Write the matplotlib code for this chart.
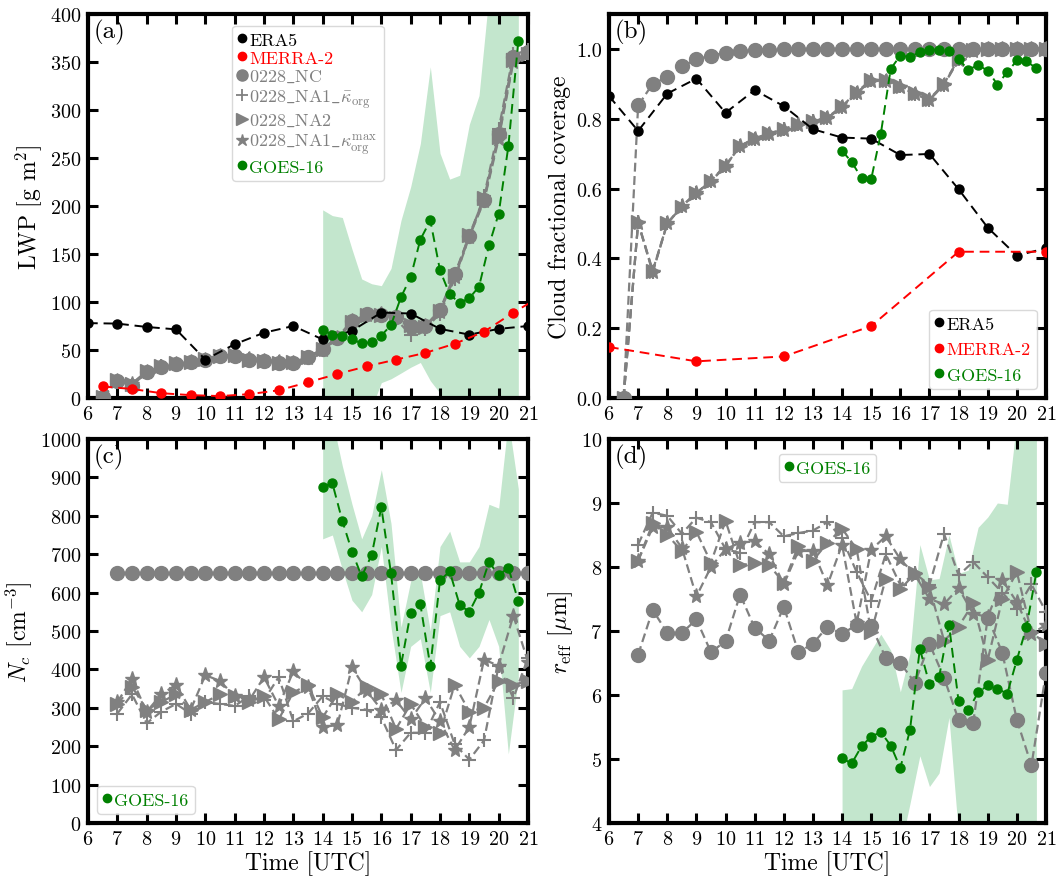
import numpy as np
import matplotlib
matplotlib.use("Agg")
import matplotlib.pyplot as plt
from matplotlib.lines import Line2D

plt.rcParams['font.family'] = 'serif'
plt.rcParams['font.serif'] = ['cmr10', 'DejaVu Serif']
plt.rcParams['mathtext.fontset'] = 'cm'
plt.rcParams['axes.formatter.use_mathtext'] = True
plt.rcParams['axes.unicode_minus'] = False

# ---------------- data ----------------
model_time = [6.5, 7, 7.5, 8, 8.5, 9, 9.5, 10, 10.5, 11, 11.5, 12, 12.5, 13, 13.5,
              14, 14.5, 15, 15.5, 16, 16.5, 17, 17.5, 18, 18.5, 19, 19.5, 20, 20.5, 21]
goes_time = [14.0, 14.33, 14.67, 15.0, 15.33, 15.67, 16.0, 16.33, 16.67, 17.0, 17.33,
             17.67, 18.0, 18.33, 18.67, 19.0, 19.33, 19.67, 20.0, 20.33, 20.67]
era5_time = [6, 7, 8, 9, 10, 11, 12, 13, 14, 15, 16, 17, 18, 19, 20, 21]
merra_lwp_time = [6.5, 7.5, 8.5, 9.5, 10.5, 11.5, 12.5, 13.5, 14.5, 15.5, 16.5, 17.5,
                  18.5, 19.5, 20.5, 21.5]
merra_cf_time = [6, 9, 12, 15, 18, 21]

# (a) LWP
era5_lwp = [78, 77.5, 74, 71.5, 40, 56, 68, 75, 61, 70, 89, 88, 72, 66, 72, 75]
merra_lwp = [12, 9.4, 5, 3, 2, 4, 8, 16.4, 25, 33, 40, 47, 56.5, 69, 89, 107]
nc_lwp = [1, 17.5, 13, 27, 32, 35, 37, 40, 44, 44, 40, 39, 36, 36, 42.5,
          50.6, 63, 80, 87, 86, 84, 75, 75, 92, 129, 169, 206, 275, 355, 360]
na1k_lwp = [0, 18, 14, 26, 33, 35, 38, 40, 43, 45, 41, 38, 37, 35, 43,
            50, 62, 78, 85, 87, 82, 66, 72, 88, 124, 168, 210, 280, 358, 362]
na2_lwp = [1, 19, 15, 28, 33, 36, 37, 41, 44, 45, 40, 39, 36, 37, 43,
           51, 64, 79, 86, 86, 83, 76, 74, 91, 127, 170, 208, 272, 352, 358]
na1kmax_lwp = [0, 18, 15, 27, 32, 35, 38, 40, 44, 44, 41, 39, 37, 36, 42,
               50, 63, 80, 86, 87, 84, 72, 75, 90, 126, 168, 205, 270, 350, 360]
goes_lwp = [71, 66, 65, 61, 57, 58, 65, 76, 105, 126, 165, 185, 133, 108, 99, 104,
            116, 159, 192, 262, 372]
goes_lwp_lo = [-20, -15, -10, -20, -25, -10, 16, 20, 26, 32, 37, 18, 5, -10, -20, -20,
               -30, -30, -30, -30, -30]
goes_lwp_hi = [196, 190, 188, 155, 124, 119, 117, 135, 185, 220, 265, 345, 255, 228,
               232, 285, 315, 420, 500, 500, 500]

# (b) cloud fraction
era5_cf = [0.865, 0.765, 0.872, 0.915, 0.817, 0.882, 0.836, 0.77, 0.746, 0.743,
           0.696, 0.699, 0.598, 0.488, 0.408, 0.429]
merra_cf = [0.146, 0.105, 0.119, 0.206, 0.419, 0.419]
nc_cf = [0.0, 0.838, 0.90, 0.919, 0.95, 0.97, 0.981, 0.989, 0.993, 0.996, 0.998,
         0.999, 1.0, 1.0, 1.0, 1.0, 1.0, 1.0, 1.0, 1.0, 1.0, 1.0, 1.0, 1.0, 1.0,
         1.0, 1.0, 1.0, 1.0, 1.0]
na1k_cf = [0.0, 0.503, 0.362, 0.50, 0.549, 0.587, 0.622, 0.665, 0.722, 0.743, 0.757,
           0.770, 0.784, 0.793, 0.803, 0.834, 0.874, 0.910, 0.908, 0.893, 0.871,
           0.855, 0.898, 0.970, 0.996, 1.0, 1.0, 1.0, 1.0, 1.0]
na2_cf = [0.0, 0.503, 0.365, 0.50, 0.548, 0.586, 0.623, 0.666, 0.721, 0.744, 0.758,
          0.771, 0.785, 0.794, 0.804, 0.836, 0.876, 0.912, 0.910, 0.895, 0.873,
          0.857, 0.900, 0.972, 0.997, 1.0, 1.0, 1.0, 1.0, 1.0]
na1kmax_cf = [0.0, 0.502, 0.360, 0.50, 0.550, 0.588, 0.621, 0.664, 0.723, 0.742,
              0.756, 0.769, 0.783, 0.792, 0.802, 0.833, 0.873, 0.909, 0.907, 0.892,
              0.870, 0.854, 0.897, 0.969, 0.995, 1.0, 1.0, 1.0, 1.0, 1.0]
goes_cf = [0.708, 0.676, 0.630, 0.627, 0.757, 0.943, 0.981, 0.977, 0.991, 0.998, 0.998,
           0.993, 0.970, 0.941, 0.953, 0.938, 0.898, 0.933, 0.967, 0.965, 0.944]

# (c) droplet number
nc_nc = [np.nan] + [652] * 29
na1k_nc = [np.nan, 285, 335, 260, 290, 310, 285, 315, 310, 305, 330, 320, 380, 265, 285,
           330, 310, 300, 295, 275, 190, 235, 235, 315, 205, 165, 215, 410, 325, 430]
na2_nc = [np.nan, 310, 355, 295, 315, 335, 295, 315, 335, 330, 315, 330, 270, 340, 360,
          275, 335, 315, 355, 335, 245, 310, 250, 235, 360, 290, 300, 370, 360, 370]
na1kmax_nc = [np.nan, 315, 375, 290, 335, 360, 295, 385, 370, 330, 320, 380, 305, 395, 355,
              250, 255, 405, 345, 295, 320, 270, 325, 265, 190, 250, 425, 410, 540, 420]
goes_nc = [875, 885, 787, 707, 642, 698, 822, 650, 410, 548, 570, 408, 632, 655, 568,
           550, 600, 680, 645, 665, 578]
goes_nc_lo = [740, 750, 660, 580, 550, 595, 720, 510, 340, 460, 480, 340, 540, 550, 460,
              430, 460, 530, 460, 180, 380]
goes_nc_hi = [1050, 1050, 930, 830, 740, 800, 920, 780, 510, 630, 650, 500, 720, 760,
              680, 680, 720, 830, 820, 1050, 870]

# (d) effective radius
nc_re = [np.nan, 6.63, 7.33, 6.97, 6.97, 7.18, 6.67, 6.84, 7.57, 7.05, 6.85, 7.38, 6.67,
         6.80, 7.07, 6.95, 7.10, 7.08, 6.58, 6.50, 6.19, 6.80, 6.27, 5.61, 5.56, 7.21,
         6.66, 5.61, 4.90, 6.35]
na1k_re = [np.nan, 8.35, 8.85, 8.80, 8.52, 8.77, 8.70, 8.28, 8.22, 8.70, 8.70, 8.48,
           8.53, 8.57, 8.70, 8.45, 7.92, 7.47, 8.20, 7.72, 7.90, 7.72, 8.52, 7.87, 8.08,
           7.84, 7.60, 7.35, 7.73, 7.30]
na2_re = [np.nan, 8.10, 8.68, 8.50, 8.25, 8.55, 8.07, 8.72, 8.03, 8.06, 8.03, 7.75, 8.33,
          8.10, 8.38, 8.60, 8.28, 6.98, 7.82, 7.65, 7.90, 7.68, 6.85, 7.07, 7.43, 6.55,
          7.50, 7.92, 6.98, 6.80]
na1kmax_re = [np.nan, 8.10, 8.62, 8.62, 8.30, 7.54, 8.00, 8.28, 8.38, 8.40, 8.20, 7.73,
              8.25, 8.25, 7.72, 8.35, 7.12, 8.27, 8.48, 8.12, 7.88, 7.50, 7.42, 7.67, 7.27,
              7.22, 7.80, 7.45, 6.95, 7.10]
goes_re = [5.01, 4.93, 5.20, 5.35, 5.42, 5.21, 4.86, 5.45, 6.72, 6.17, 6.28, 7.10, 5.90,
           5.76, 6.04, 6.15, 6.10, 6.02, 6.55, 7.06, 7.92]
goes_re_lo = [3.8, 3.8, 3.8, 3.8, 3.8, 3.7, 3.6, 4.3, 5.05, 4.57, 4.78, 5.65, 3.8, 3.7,
              3.7, 3.6, 3.6, 3.6, 3.6, 3.5, 3.5]
goes_re_hi = [6.08, 6.10, 6.45, 6.70, 6.95, 6.70, 6.05, 6.65, 8.35, 7.80, 7.82, 8.50,
              7.90, 7.95, 8.62, 8.78, 9.00, 8.98, 10.3, 10.6, 10.6]

# ---------------- styling ----------------
GRAY = 'gray'
GREEN = 'green'
SHADE = '#c3e6cd'
model_styles = [('o', 10), ('+', 10), ('>', 10), ('*', 11)]
model_labels = [r'0228$\_$NC', r'0228$\_$NA1$\_\bar{\kappa}_{\rm org}$',
                r'0228$\_$NA2', r'0228$\_$NA1$\_\kappa_{\rm org}^{\rm max}$']

fig = plt.figure(figsize=(10.57, 8.79), dpi=100)
W, H = 1057, 879
def ax_at(l, t, w=440):
    return fig.add_axes([l / W, 1 - (t + 384) / H, w / W, 384 / H])

axa = ax_at(88, 15)
axb = ax_at(609, 15, 437)
axc = ax_at(88, 440)
axd = ax_at(609, 440, 437)

def style(ax, ylim, yticks, letter):
    ax.set_xlim(6, 21)
    ax.set_xticks(range(6, 22))
    ax.set_ylim(*ylim)
    ax.set_yticks(yticks)
    ax.tick_params(direction='in', top=True, right=True, length=7, width=2.2,
                   labelsize=14.5, pad=5)
    for s in ax.spines.values():
        s.set_linewidth(3)
    ax.text(0.012, 0.988, letter, transform=ax.transAxes, ha='left', va='top',
            fontsize=18)

def models(ax, series):
    for (m, ms), y in zip(model_styles, series):
        mew = 1.5 if m == '+' else 1
        ax.plot(model_time, y, ls='--', color=GRAY, lw=1.6, marker=m, ms=ms,
                mew=mew, dashes=(4, 2), zorder=3)

def leg_handles(items):
    hs = []
    for lab, col, m, ms in items:
        hs.append(Line2D([], [], ls='none', marker=m, color=col, ms=ms,
                         mew=1.3 if m == '+' else 1, label=lab))
    return hs

def add_legend(ax, items, spacing=0.25, **kw):
    hs = leg_handles(items)
    lg = ax.legend(handles=hs, fontsize=13, handlelength=0.4, handletextpad=0.2,
                   borderpad=0.35, labelspacing=spacing, framealpha=0.8,
                   edgecolor='#d0d0d0', **kw)
    for t, (lab, col, m, ms) in zip(lg.get_texts(), items):
        t.set_color(col)
    return lg

# (a)
axa.fill_between(goes_time, goes_lwp_lo, goes_lwp_hi, color=SHADE, lw=0, zorder=1)
axa.plot(era5_time, era5_lwp, '--', color='black', marker='o', ms=6.5, lw=1.4,
         dashes=(5, 3), zorder=4)
axa.plot(merra_lwp_time, merra_lwp, '--', color='red', marker='o', ms=6.5, lw=1.4,
         dashes=(5, 3), zorder=4)
models(axa, [nc_lwp, na1k_lwp, na2_lwp, na1kmax_lwp])
axa.plot(goes_time, goes_lwp, '--', color=GREEN, marker='o', ms=6.5, lw=1.4,
         dashes=(5, 3), zorder=5)
style(axa, (0, 400), range(0, 401, 50), '(a)')
axa.set_ylabel(r'LWP [g m$^{2}$]', fontsize=17, labelpad=4)
items_a = [('ERA5', 'black', 'o', 6), ('MERRA-2', 'red', 'o', 6)]
for lab, (m, ms) in zip(model_labels, model_styles):
    items_a.append((lab, GRAY, m, 8 if m != '*' else 9))
items_a.append(('GOES-16', GREEN, 'o', 6))
add_legend(axa, items_a, spacing=0.13, loc='upper center',
           bbox_to_anchor=(0.5, 0.993))

# (b)
axb.plot(era5_time, era5_cf, '--', color='black', marker='o', ms=6.5, lw=1.4,
         dashes=(5, 3), zorder=4)
axb.plot(merra_cf_time, merra_cf, '--', color='red', marker='o', ms=6.5, lw=1.4,
         dashes=(5, 3), zorder=4)
models(axb, [nc_cf, na1k_cf, na2_cf, na1kmax_cf])
axb.plot(goes_time, goes_cf, '--', color=GREEN, marker='o', ms=6.5, lw=1.4,
         dashes=(5, 3), zorder=5)
style(axb, (0, 1.1), np.arange(0, 1.01, 0.2), '(b)')
axb.set_yticklabels(['0.0', '0.2', '0.4', '0.6', '0.8', '1.0'])
axb.set_ylabel('Cloud fractional coverage', fontsize=17, labelpad=4)
add_legend(axb, [('ERA5', 'black', 'o', 6), ('MERRA-2', 'red', 'o', 6),
                 ('GOES-16', GREEN, 'o', 6)], spacing=0.55, loc='lower right')

# (c)
axc.fill_between(goes_time, goes_nc_lo, goes_nc_hi, color=SHADE, lw=0, zorder=1)
models(axc, [nc_nc, na1k_nc, na2_nc, na1kmax_nc])
axc.plot(goes_time, goes_nc, '--', color=GREEN, marker='o', ms=6.5, lw=1.4,
         dashes=(5, 3), zorder=5)
style(axc, (0, 1000), range(0, 1001, 100), '(c)')
axc.set_ylabel(r'$N_c$ [cm$^{-3}$]', fontsize=17, labelpad=4)
axc.set_xlabel('Time [UTC]', fontsize=17, labelpad=2)
add_legend(axc, [('GOES-16', GREEN, 'o', 6)], loc='lower left')

# (d)
axd.fill_between(goes_time, goes_re_lo, goes_re_hi, color=SHADE, lw=0, zorder=1)
models(axd, [nc_re, na1k_re, na2_re, na1kmax_re])
axd.plot(goes_time, goes_re, '--', color=GREEN, marker='o', ms=6.5, lw=1.4,
         dashes=(5, 3), zorder=5)
style(axd, (4, 10), range(4, 11), '(d)')
axd.set_ylabel(r'$r_{\rm eff}$ [$\mu$m]', fontsize=17, labelpad=4)
axd.set_xlabel('Time [UTC]', fontsize=17, labelpad=2)
add_legend(axd, [('GOES-16', GREEN, 'o', 6)], loc='upper center',
           bbox_to_anchor=(0.5, 0.985))

fig.savefig('out.png', dpi=100)
